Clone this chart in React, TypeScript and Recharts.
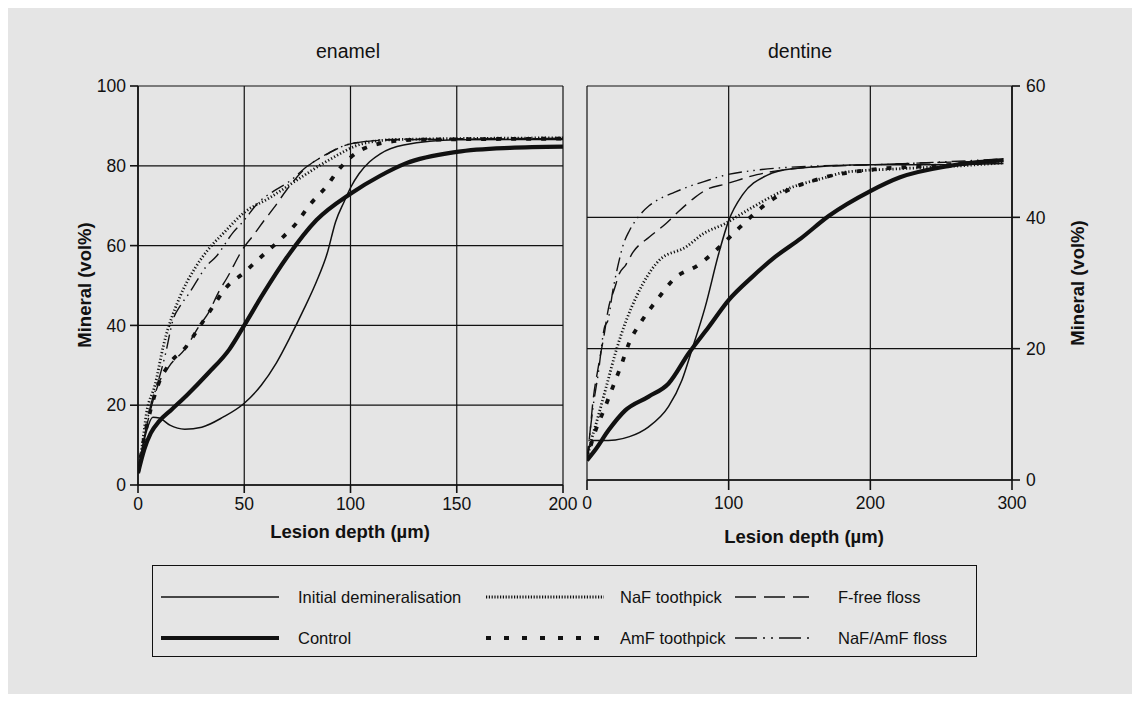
import { LineChart, Line, XAxis, YAxis, CartesianGrid } from 'recharts';

// depth (µm), mineral (vol%) pairs
const enamelDepthTicks = [0, 50, 100, 150, 200];
const enamelMineralTicks = [0, 20, 40, 60, 80, 100];
const dentineDepthTicks = [0, 100, 200, 300];
const dentineMineralTicks = [0, 20, 40, 60];

const enamelInitial = [[0, 3], [2, 9], [4, 13.5], [7, 17], [10, 16.8], [15, 15], [22, 14], [30, 14.5], [40, 17], [50, 20.5], [58, 25], [65, 30.5], [72, 37.5], [78, 44], [84, 51], [89, 58], [93, 66], [97, 71], [100, 74.5], [104, 78], [109, 81], [114, 83], [125, 85.2], [150, 86.5], [200, 86.6]];
const enamelControl = [[0, 3], [3, 9], [6, 13], [10, 16], [16, 19], [23, 22.5], [33, 28], [43, 34], [50, 40], [59, 48], [70, 57], [84, 66.4], [100, 73], [114, 77.5], [126, 80.6], [150, 83.5], [175, 84.5], [200, 84.8]];
const enamelNaFPick = [[0, 3], [2, 10], [4, 18], [8, 25], [12, 35], [20, 47.5], [27, 54.5], [33, 59], [40, 63], [50, 68.3], [62, 72], [75, 76.5], [90, 81.5], [106, 85.6], [122, 86.6], [200, 87]];
const enamelAmFPick = [[0, 3], [3, 12], [6, 19], [9.4, 25], [15, 30.5], [22.7, 34.7], [29, 39.7], [35, 44.5], [41.5, 49.5], [49.4, 53], [58, 57.2], [66.7, 61.4], [74.5, 65.6], [80.8, 70.2], [88.6, 74.8], [95, 79.4], [103.5, 83.5], [114, 85.6], [130, 86.5], [200, 86.8]];
const enamelFreeFloss = [[0, 3], [3, 12], [6, 19], [9.4, 25], [15, 30], [22, 34], [29, 40], [33, 43], [38, 48.4], [42, 52], [50, 59.7], [54, 62.4], [59.5, 66.4], [64, 69.5], [70, 74], [78, 79], [90, 83.2], [100, 85.5], [120, 86.5], [200, 86.8]];
const enamelNaFAmFFloss = [[0, 3], [3, 12], [6, 20], [9, 25], [13, 33], [16.5, 41.4], [20, 45], [24, 48], [28, 51.4], [32, 54.7], [37, 57.4], [44.6, 63.2], [49.4, 66], [57, 71], [64, 73.7], [71, 76], [80, 80], [89, 83], [100, 85.5], [120, 86.6], [200, 86.9]];

const dentineInitial = [[0, 3], [3.5, 6], [10, 6], [20, 6.1], [30, 6.6], [43.5, 8.1], [57.6, 11.2], [67, 15.2], [74, 19.8], [83.5, 26.4], [93, 34.5], [100, 39.5], [110, 43.5], [127, 46.4], [145, 47.4], [200, 48], [250, 48], [294, 48.2]];
const dentineControl = [[0, 3], [5.9, 4.6], [15.3, 7.6], [27, 10.6], [43.5, 12.7], [57.6, 14.7], [71.8, 19.3], [85.9, 23.3], [100, 27.4], [116.5, 30.9], [133, 34], [151, 36.8], [170.6, 40.2], [200, 44], [221, 46.1], [255, 47.8], [294, 48.7]];
const dentineNaFPick = [[0, 3], [3, 6], [6.6, 8.7], [13.6, 14.2], [20.7, 19.8], [27.7, 24.3], [34.8, 27.9], [39.5, 29.9], [51.2, 33.5], [70, 35.5], [82, 37.5], [97, 39], [115, 41.3], [139, 44.1], [169, 46.1], [183, 46.9], [221, 47.4], [260, 47.8], [294, 48.3]];
const dentineAmFPick = [[0, 3], [3, 5.5], [6, 7.5], [12.4, 10.9], [18.3, 14.2], [24.2, 17.5], [30, 21], [38.3, 24.1], [50, 27.6], [61.8, 30.7], [78.3, 32.7], [93.6, 35.5], [107, 38.3], [121, 41.1], [135, 43.3], [168, 46.1], [203, 47.3], [250, 47.9], [294, 48.5]];
const dentineFreeFloss = [[0, 3], [2, 7], [4.2, 12], [7.8, 17], [12, 22], [15, 26], [19.5, 29.2], [23, 31.5], [27.2, 32.7], [32.5, 34.7], [44, 37], [56, 39.1], [64.2, 40.8], [76, 43], [84.2, 44.2], [98.3, 45.1], [120, 46.5], [150, 47.5], [200, 48], [294, 48.6]];
const dentineNaFAmFFloss = [[0, 3], [2, 7], [4.2, 11], [7.8, 16], [12.4, 23.3], [14.8, 24.3], [18.3, 28.9], [23, 33.7], [25.4, 35.7], [30, 38], [36, 40], [44, 41.8], [51.2, 42.8], [61.6, 43.8], [72, 44.7], [82, 45.4], [97, 46.4], [120, 47.2], [160, 47.8], [200, 48], [294, 48.9]];

const INK = '#111';
const BG = '#e5e5e5';
const FONT = '"Liberation Sans", Arial, Helvetica, sans-serif';

const styles: Record<string, { width: number; dash?: string }> = {
  initial: { width: 1.5 },
  control: { width: 4.2 },
  nafPick: { width: 2.8, dash: '1.2 2.2' },
  amfPick: { width: 3.8, dash: '5 10' },
  freeFloss: { width: 1.4, dash: '14 7' },
  nafAmfFloss: { width: 1.4, dash: '14 5 1.5 5 1.5 5' },
};

const toPoints = (pairs: number[][]) => pairs.map(([d, v]) => ({ d, v }));

function seriesLines(sets: [string, number[][]][]) {
  return sets.map(([key, pairs]) => (
    <Line
      key={key}
      data={toPoints(pairs)}
      dataKey="v"
      type="monotone"
      stroke={INK}
      strokeWidth={styles[key].width}
      strokeDasharray={styles[key].dash}
      dot={false}
      activeDot={false}
      isAnimationActive={false}
    />
  ));
}

const tickStyle = { fill: INK, fontSize: 17.5, fontFamily: FONT };
const titleText = { position: 'absolute' as const, fontSize: 18.5, fontWeight: 'bold' as const, whiteSpace: 'nowrap' as const };

function LegendSample({ x, y, kind }: { x: number; y: number; kind: string }) {
  const len = kind === 'freeFloss' || kind === 'nafAmfFloss' ? 74 : 118;
  const dash: Record<string, string | undefined> = {
    initial: undefined,
    control: undefined,
    nafPick: '1.2 1.6',
    amfPick: '5 13',
    freeFloss: '21 8 21 8 21 8 2 20',
    nafAmfFloss: '22 6 2 6 2 6 22 6 2 20',
  };
  return (
    <line x1={x} y1={y} x2={x + len} y2={y} stroke={INK} strokeWidth={styles[kind].width} strokeDasharray={dash[kind]} />
  );
}

export default function App() {
  return (
    <div style={{ position: 'relative', width: 1124, height: 686, background: BG, fontFamily: FONT, color: INK }}>
      <div style={{ position: 'absolute', left: 340, top: 43, transform: 'translate(-50%,-50%)', fontSize: 19.5 }}>enamel</div>
      <div style={{ position: 'absolute', left: 792, top: 43, transform: 'translate(-50%,-50%)', fontSize: 19.5 }}>dentine</div>

      <div style={{ position: 'absolute', left: 0, top: 0 }}>
        <LineChart width={600} height={560} margin={{ top: 78, right: 45, left: 80, bottom: 43 }}>
          <CartesianGrid stroke={INK} strokeWidth={1.2} />
          <XAxis dataKey="d" type="number" domain={[0, 200]} ticks={enamelDepthTicks} allowDataOverflow height={40}
            stroke={INK} strokeWidth={1.6} tickSize={8} tickMargin={5} tick={tickStyle} />
          <YAxis type="number" domain={[0, 100]} ticks={enamelMineralTicks} allowDataOverflow width={50}
            stroke={INK} strokeWidth={1.6} tickSize={8} tickMargin={4} tick={tickStyle} />
          {seriesLines([
            ['initial', enamelInitial],
            ['control', enamelControl],
            ['nafPick', enamelNaFPick],
            ['amfPick', enamelAmFPick],
            ['freeFloss', enamelFreeFloss],
            ['nafAmfFloss', enamelNaFAmFFloss],
          ])}
        </LineChart>
      </div>

      <div style={{ position: 'absolute', left: 560, top: 0 }}>
        <LineChart width={564} height={560} margin={{ top: 78, right: 70, left: 19, bottom: 48 }}>
          <CartesianGrid stroke={INK} strokeWidth={1.2} />
          <XAxis dataKey="d" type="number" domain={[0, 300]} ticks={dentineDepthTicks} allowDataOverflow height={40}
            stroke={INK} strokeWidth={1.6} tickSize={10} tickMargin={7} tick={tickStyle} />
          <YAxis orientation="right" type="number" domain={[0, 60]} ticks={dentineMineralTicks} allowDataOverflow width={50}
            stroke={INK} strokeWidth={1.6} tickSize={8} tickMargin={6} tick={tickStyle} />
          {seriesLines([
            ['initial', dentineInitial],
            ['control', dentineControl],
            ['nafPick', dentineNaFPick],
            ['amfPick', dentineAmFPick],
            ['freeFloss', dentineFreeFloss],
            ['nafAmfFloss', dentineNaFAmFFloss],
          ])}
        </LineChart>
      </div>

      <div style={{ ...titleText, left: 77, top: 277, transform: 'translate(-50%,-50%) rotate(-90deg)' }}>Mineral (vol%)</div>
      <div style={{ ...titleText, left: 1070, top: 275, transform: 'translate(-50%,-50%) rotate(-90deg)' }}>Mineral (vol%)</div>
      <div style={{ ...titleText, left: 342, top: 524, transform: 'translate(-50%,-50%)' }}>Lesion depth (µm)</div>
      <div style={{ ...titleText, left: 796, top: 529, transform: 'translate(-50%,-50%)' }}>Lesion depth (µm)</div>

      <div style={{ position: 'absolute', left: 144, top: 557, width: 825, height: 92, border: `1.5px solid ${INK}`, boxSizing: 'border-box' }}>
        <svg width={822} height={89} style={{ position: 'absolute', left: 0, top: 0 }}>
          <LegendSample x={8} y={31} kind="initial" />
          <LegendSample x={8} y={72} kind="control" />
          <LegendSample x={333} y={31} kind="nafPick" />
          <LegendSample x={333} y={72} kind="amfPick" />
          <LegendSample x={582} y={31} kind="freeFloss" />
          <LegendSample x={582} y={72} kind="nafAmfFloss" />
          <g fontFamily={FONT} fontSize={16.5} fill={INK}>
            <text x={145} y={37}>Initial demineralisation</text>
            <text x={145} y={78}>Control</text>
            <text x={467} y={37}>NaF toothpick</text>
            <text x={467} y={78}>AmF toothpick</text>
            <text x={685} y={37}>F-free floss</text>
            <text x={685} y={78}>NaF/AmF floss</text>
          </g>
        </svg>
      </div>
    </div>
  );
}
